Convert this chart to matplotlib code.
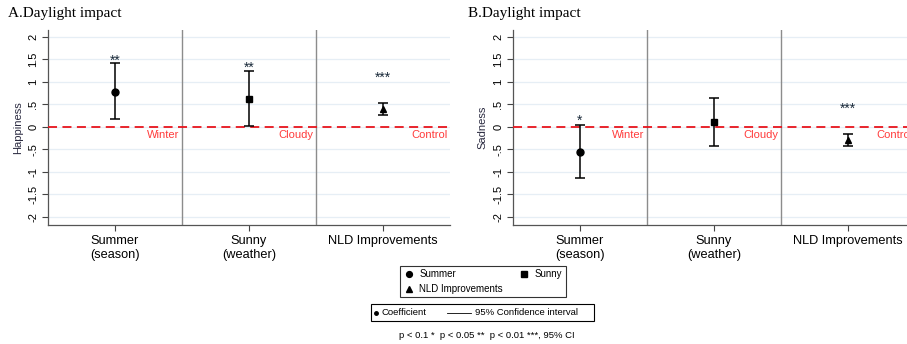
import matplotlib.pyplot as plt
from matplotlib.lines import Line2D
from matplotlib.patches import Rectangle

plt.rcParams['font.family'] = ['Liberation Sans', 'DejaVu Sans']

categories = ['Summer\n(season)', 'Sunny\n(weather)', 'NLD Improvements']
ref_labels = ['Winter', 'Cloudy', 'Control']
markers = ['o', 's', '^']
yticks = [2, 1.5, 1, 0.5, 0, -0.5, -1, -1.5, -2]
ytick_labels = ['2', '1.5', '1', '.5', '0', '-.5', '-1', '-1.5', '-2']

# happiness (panel A)
hap_coef = [0.78, 0.62, 0.40]
hap_lo = [0.17, 0.01, 0.27]
hap_hi = [1.41, 1.24, 0.53]
hap_stars = ['**', '**', '***']
hap_star_y = [1.47, 1.32, 1.08]

# sadness (panel B)
sad_coef = [-0.55, 0.10, -0.29]
sad_lo = [-1.14, -0.42, -0.42]
sad_hi = [0.04, 0.63, -0.17]
sad_stars = ['*', '', '***']
sad_star_y = [0.13, 0, 0.40]

W, H = 907, 344
fig = plt.figure(figsize=(W/100, H/100), dpi=100)
axA = fig.add_axes([48/W, 1-225/H, 402/W, 195/H])
axB = fig.add_axes([513/W, 1-225/H, 402/W, 195/H])

def fx(px):
    return px / W

def fy(py):
    return 1 - py / H

def draw_panel(ax, coef, lo, hi, stars, star_y, ylabel, title, title_x):
    x = [1, 2, 3]
    for i in range(3):
        ax.errorbar(x[i], coef[i], yerr=[[coef[i]-lo[i]], [hi[i]-coef[i]]],
                    fmt=markers[i], color='black', ms=5,
                    elinewidth=1.1, capsize=3.5, capthick=1.1, zorder=4)
        if stars[i]:
            ax.text(x[i], star_y[i], stars[i], ha='center', va='center',
                    fontsize=10, color='#1a2a3a', zorder=5)
        ax.text(x[i]+0.48, -0.18, ref_labels[i], ha='right', va='center',
                fontsize=8, color='#ff3b3b', zorder=5)
    ax.axhline(0, color='#e8141c', linestyle=(0, (5, 3)), linewidth=1.3, zorder=3)
    for xv in [1.5, 2.5]:
        ax.axvline(xv, color='#8c8c8c', linewidth=1.0, zorder=2)
    ax.set_xlim(0.5, 3.5)
    ax.set_ylim(-2.18, 2.15)
    ax.set_yticks(yticks)
    ax.set_yticklabels(ytick_labels, rotation=90, va='center', fontsize=8)
    ax.set_xticks(x)
    ax.set_xticklabels(categories, fontsize=9.2)
    ax.tick_params(axis='both', color='#444444', length=4, width=0.8, pad=3)
    ax.grid(axis='y', color='#e6eef5', linewidth=0.9, zorder=0)
    ax.set_axisbelow(True)
    for s in ['top', 'right']:
        ax.spines[s].set_visible(False)
    for s in ['left', 'bottom']:
        ax.spines[s].set_color('#555555')
        ax.spines[s].set_linewidth(0.9)
    ax.set_ylabel(ylabel, fontsize=8, color='#2a2a40', labelpad=4)
    fig.text(fx(title_x), fy(14), title, fontsize=11,
             family='Liberation Serif', ha='left', va='center')

draw_panel(axA, hap_coef, hap_lo, hap_hi, hap_stars, hap_star_y, 'Happiness', 'A.Daylight impact', 8)
draw_panel(axB, sad_coef, sad_lo, sad_hi, sad_stars, sad_star_y, 'Sadness', 'B.Daylight impact', 468)

# legend with series markers
h1 = [Line2D([], [], marker=m, color='black', linestyle='none', markersize=4.2) for m in markers]
leg1 = fig.legend([h1[0], h1[2], h1[1]], ['Summer', 'NLD Improvements', 'Sunny'],
                  ncol=2, loc='center', bbox_to_anchor=(fx(483), fy(281.5)),
                  fontsize=7, frameon=True, fancybox=False, edgecolor='black',
                  handlelength=1.0, handletextpad=0.6, columnspacing=1.65,
                  labelspacing=0.5, borderpad=0.35, borderaxespad=0)
leg1.get_frame().set_linewidth(0.8)

# coefficient / CI key
fig.add_artist(Rectangle((fx(371), fy(321)), fx(594) - fx(371), fy(304) - fy(321),
                         transform=fig.transFigure, fill=False, edgecolor='black', linewidth=0.8))
fig.add_artist(Line2D([fx(375.5)], [fy(312.5)], marker='o', markersize=2.5, color='black',
                      transform=fig.transFigure))
fig.text(fx(381), fy(312.5), 'Coefficient', ha='left', va='center', fontsize=6.8)
fig.add_artist(Line2D([fx(447), fx(471)], [fy(312.5), fy(312.5)], color='black', linewidth=0.6,
                      transform=fig.transFigure))
fig.text(fx(475), fy(312.5), '95% Confidence interval', ha='left', va='center', fontsize=6.8)

fig.text(fx(487), fy(335.5), 'p < 0.1 *  p < 0.05 **  p < 0.01 ***, 95% CI',
         ha='center', va='center', fontsize=6.8)

fig.savefig('out.png', dpi=100)
